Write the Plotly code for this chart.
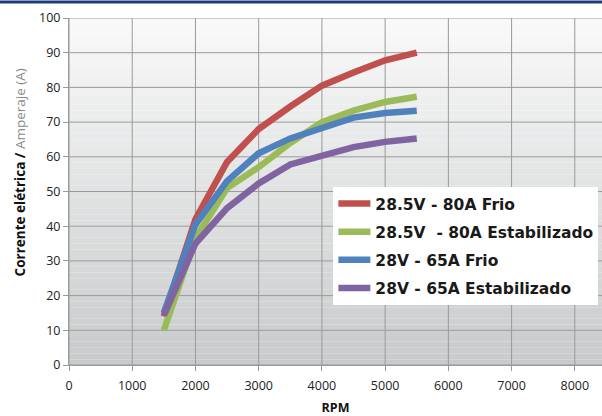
import plotly.graph_objects as go

# RPM sample points
rpm = [1500, 2000, 2500, 3000, 3500, 4000, 4500, 5000, 5500]

red_80a_frio = [14, 42, 58.5, 68, 74.5, 80.5, 84.3, 87.8, 90]
green_80a_estab = [10, 36.5, 51, 57, 64, 70, 73.3, 75.8, 77.3]
blue_65a_frio = [15, 40.5, 53, 61, 65.3, 68.3, 71.3, 72.6, 73.3]
purple_65a_estab = [14.3, 35, 45.2, 52.3, 57.8, 60.2, 62.8, 64.3, 65.3]

x_ticks = [0, 1000, 2000, 3000, 4000, 5000, 6000, 7000, 8000]
y_ticks = [0, 10, 20, 30, 40, 50, 60, 70, 80, 90, 100]

series = [
    ("28.5V - 80A Frio", red_80a_frio, "#c0504d"),
    ("28.5V\u00a0 - 80A Estabilizado", green_80a_estab, "#9bbb59"),
    ("28V - 65A Frio", blue_65a_frio, "#4f81bd"),
    ("28V - 65A Estabilizado", purple_65a_estab, "#8064a2"),
]

GRID = "#9a9a9a"

fig = go.Figure()

for i, (name, vals, color) in enumerate(series):
    fig.add_trace(go.Scatter(
        x=rpm, y=vals, mode="lines", name=name, legendgroup=str(i),
        line=dict(color=color, width=6.5),
    ))

# vertical gradient background (white -> grey)
n = 60
top = (250, 250, 250)
bot = (200, 203, 204)
for i in range(n):
    t = (i + 0.5) / n
    c = tuple(int(top[k] + (bot[k] - top[k]) * t) for k in range(3))
    fig.add_shape(
        type="rect", xref="paper", yref="paper",
        x0=0, x1=1, y0=1 - i / n, y1=1 - (i + 1) / n,
        fillcolor="rgb(%d,%d,%d)" % c, line_width=0, layer="below",
    )

# grid drawn over the gradient
for xv in x_ticks:
    fig.add_shape(type="line", xref="x", yref="paper", x0=xv, x1=xv, y0=0, y1=1,
                  line=dict(color=GRID, width=1), layer="below")
for yv in y_ticks:
    fig.add_shape(type="line", xref="paper", yref="y", x0=0, x1=1, y0=yv, y1=yv,
                  line=dict(color=GRID, width=1), layer="below")

# dark top rule
fig.add_shape(type="line", xref="paper", yref="paper", x0=-0.2, x1=1.1,
              y0=1.046, y1=1.046, line=dict(color="#1f3a7a", width=3))

# y axis title, sitting a bit above centre like the original
fig.add_annotation(
    text="<b>Corrente elétrica / </b><span style='color:#8a8a8a'>Amperaje (A)</span>",
    xref="paper", yref="paper", x=-0.092, y=0.555, textangle=-90,
    xanchor="center", yanchor="middle",
    showarrow=False, font=dict(size=13.5, color="#111"),
)

fig.update_layout(
    width=602, height=416,
    margin=dict(l=69, r=0, t=18, b=51),
    paper_bgcolor="white",
    plot_bgcolor="rgba(0,0,0,0)",
    font=dict(family="Open Sans, sans-serif", size=12, color="#222"),
    legend=dict(
        x=0.496, y=0.513, xanchor="left", yanchor="top",
        bgcolor="white", borderwidth=0,
        font=dict(family="DejaVu Sans, sans-serif", size=15.5, color="#1a1a1a", weight="bold"),
        tracegroupgap=5, itemwidth=32,
    ),
    xaxis=dict(
        range=[0, 8430], tickvals=x_ticks,
        showgrid=False,
        showline=True, linecolor=GRID,
        ticks="outside", ticklen=5, tickcolor=GRID,
        ticklabelstandoff=4,
        zeroline=False, automargin=False,
        title=dict(text="<b>RPM</b>", font=dict(size=12.5, color="#111"), standoff=10),
        tickfont=dict(size=12.5, color="#222"),
    ),
    yaxis=dict(
        range=[0, 100], tickvals=y_ticks,
        showgrid=False,
        showline=True, linecolor=GRID,
        ticks="outside", ticklen=5, tickcolor=GRID,
        zeroline=False, automargin=False,
        tickfont=dict(size=12.5, color="#222"),
    ),
)

# drop the default page margin so the figure sits flush in the window
fig.write_html("out.html", config={"displayModeBar": False},
               post_script="document.body.style.margin='0';")
